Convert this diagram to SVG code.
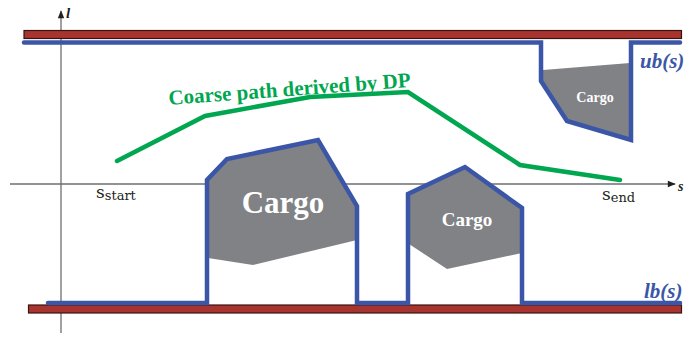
<svg xmlns="http://www.w3.org/2000/svg" width="690" height="338" viewBox="0 0 690 338">
  <defs>
    <marker id="arrow" viewBox="0 0 10 10" refX="9" refY="5" markerWidth="10" markerHeight="8" markerUnits="userSpaceOnUse" orient="auto">
      <path d="M0,1 L10,5 L0,9 z" fill="#231f20"/>
    </marker>
  </defs>
  <style>
    .axis { stroke: #6d6e71; stroke-width: 1.3; fill: none; }
    .rail { fill: #a8342f; stroke: #3a1412; stroke-width: 1.2; }
    .bound { fill: none; stroke: #3b56a6; stroke-width: 4.5; stroke-linejoin: miter; stroke-linecap: round; }
    .cargo { fill: #808285; }
    .cargo-text { font-family: "Liberation Serif", serif; font-weight: bold; fill: #ffffff; text-anchor: middle; }
    .path { fill: none; stroke: #00a650; stroke-width: 4.5; stroke-linecap: round; stroke-linejoin: miter; }
    .lbl { font-family: "Liberation Serif", serif; fill: #231f20; }
    .pos { font-family: "DejaVu Serif", serif; fill: #231f20; }
    .bnd-lbl { font-family: "Liberation Serif", serif; font-weight: bold; font-style: italic; fill: #3b56a6; font-size: 21px; }
  </style>

  <!-- axes -->
  <g id="axes">
    <line class="axis" x1="61" y1="333" x2="61" y2="11" marker-end="url(#arrow)"/>
    <line class="axis" x1="10" y1="184" x2="675" y2="184" marker-end="url(#arrow)"/>
    <text class="lbl" x="66" y="18" font-size="15" font-style="italic" font-weight="bold">l</text>
    <text class="lbl" x="678" y="191" font-size="14" font-style="italic" font-weight="bold">s</text>
  </g>

  <!-- road edges -->
  <g id="rail-top">
    <rect class="rail" x="24" y="30.5" width="657.5" height="8"/>
  </g>
  <g id="rail-bottom">
    <rect class="rail" x="28.5" y="305" width="653" height="8"/>
  </g>

  <!-- obstacles -->
  <g id="cargo-top">
    <polygon class="cargo" points="543,70 630,63 630,140 567,120 542,82"/>
    <text class="cargo-text" x="595" y="102" font-size="14">Cargo</text>
  </g>
  <g id="cargo-large">
    <polygon class="cargo" points="208,258 253,265 357,240 357,206 318,140 227,159 208,180"/>
    <text class="cargo-text" x="283" y="213" font-size="31">Cargo</text>
  </g>
  <g id="cargo-middle">
    <polygon class="cargo" points="409,244 447,269 522,253 522,208 465,167 409,194"/>
    <text class="cargo-text" x="467" y="226" font-size="19">Cargo</text>
  </g>

  <!-- connectors: boundaries and coarse path -->
  <g id="connectors">
    <path id="ub" class="bound" d="M24,42.5 L541,42.5 L541,81 L567,121 L631,140 L631,42.5 L680,42.5"/>
    <path id="lb" class="bound" d="M48,303 L207,303 L207,180 L227,159 L318,140 L357,206 L357,303 L408,303 L408,194 L465,167 L522,208 L522,303 L680,303"/>
    <path id="coarse" class="path" d="M117,161 L205,116 L310,97 L408,92 L520,165 L620,180"/>
  </g>

  <!-- labels -->
  <g id="labels">
    <text x="169" y="105" font-family="Liberation Serif, serif" font-weight="bold" font-size="21" fill="#00a650" transform="rotate(-4.3 169 105)">Coarse path derived by DP</text>
    <text class="bnd-lbl" x="640" y="68">ub(s)</text>
    <text class="bnd-lbl" x="644" y="298">lb(s)</text>
    <text class="pos" x="96" y="198" font-size="17">s<tspan font-size="13" dy="2">start</tspan></text>
    <text class="pos" x="602" y="200" font-size="17">s<tspan font-size="13" dy="2">end</tspan></text>
  </g>
</svg>
